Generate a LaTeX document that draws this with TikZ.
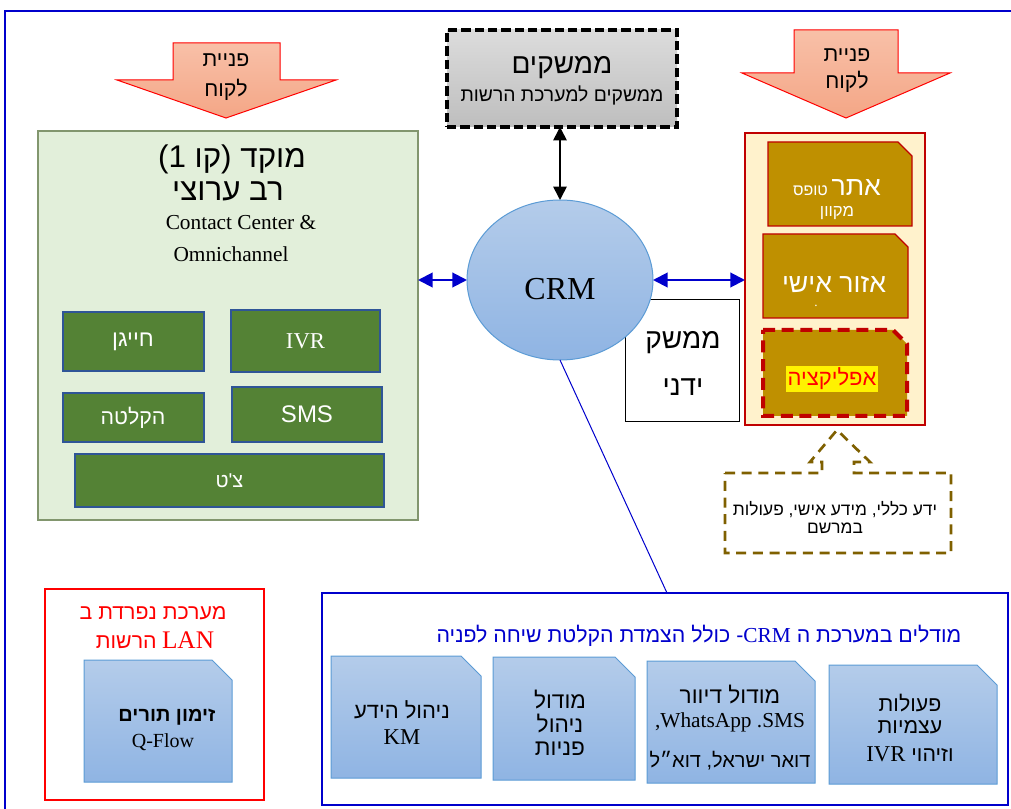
\documentclass[tikz,border=0pt]{standalone}
\usepackage{fontspec}
\setmainfont{Liberation Serif}
\newfontfamily\heb[Script=Hebrew]{Liberation Sans}
\newfontfamily\hsans{Liberation Sans}
\TeXXeTstate=1
\usetikzlibrary{arrows.meta,shapes.geometric}
\newcommand\hb[1]{{\heb\beginR #1\endR}}
\newcommand\fsz[1]{\fontsize{#1}{#1}\selectfont}
\newcommand\snipbox[6][]{\path[#1] (#2,#3) -- ({#4-#6},#3) -- (#4,{#3+#6}) -- (#4,#5) -- (#2,#5) -- cycle;}
\definecolor{frameblue}{RGB}{0,0,204}
\definecolor{panelgreen}{RGB}{226,239,218}
\definecolor{panelgreenb}{RGB}{130,150,110}
\definecolor{darkgreen}{RGB}{84,130,53}
\definecolor{gbord}{RGB}{47,85,151}
\definecolor{salmonT}{RGB}{248,192,168}
\definecolor{salmonB}{RGB}{244,166,134}
\definecolor{cream}{RGB}{255,242,204}
\definecolor{darkred}{RGB}{192,0,0}
\definecolor{gold}{RGB}{191,144,0}
\definecolor{brownc}{RGB}{127,96,0}
\definecolor{lbT}{RGB}{180,204,234}
\definecolor{lbB}{RGB}{143,180,227}
\definecolor{lbBorder}{RGB}{91,155,213}
\definecolor{grayT}{RGB}{220,220,220}
\definecolor{grayB}{RGB}{190,190,190}
\begin{document}
\begin{tikzpicture}[x=0.75pt,y=-0.75pt,
  every node/.style={inner sep=0pt,outer sep=0pt},
  frame/.style={draw=frameblue,line width=1.5pt},
  arrowshape/.style={draw=red,line width=0.75pt,top color=salmonT,bottom color=salmonB},
  ifacebox/.style={draw=black,line width=2.4pt,dash pattern=on 7pt off 3pt,top color=grayT,bottom color=grayB,minimum width=172.5pt,minimum height=72.75pt},
  greenpanel/.style={draw=panelgreenb,line width=1pt,fill=panelgreen},
  chan/.style={draw=gbord,line width=1.5pt,fill=darkgreen,text=white},
  crmstyle/.style={ellipse,draw=lbBorder,line width=0.75pt,top color=lbT,bottom color=lbB,minimum width=139.5pt,minimum height=120pt},
  goldbox/.style={fill=gold,draw=darkred,line width=1pt},
  appbox/.style={fill=gold,draw=darkred,line width=3pt,dash pattern=on 9pt off 5pt},
  modbox/.style={draw=lbBorder,line width=0.75pt,top color=lbT,bottom color=lbB},
  bidir/.style={{Triangle[width=11pt,length=11pt]}-{Triangle[width=11pt,length=11pt]},draw=frameblue,fill=frameblue,line width=1.5pt},
  blkbidir/.style={{Triangle[width=10pt,length=10pt]}-{Triangle[width=10pt,length=10pt]},draw=black,fill=black,line width=1.2pt},
  calloutsty/.style={draw=brownc,line width=2pt,dash pattern=on 7.5pt off 5pt,fill=white}
]
\useasboundingbox (0,0) rectangle (1011,809);
% outer frame
\draw[frame] (5,11) rectangle (1030,830);

% customer arrows
\path[arrowshape] (173,43) -- (280,43) -- (280,80) -- (336,80) -- (226,118) -- (117,80) -- (173,80) -- cycle;
\node[font=\fsz{16}] (la1) at (226,60) {\hb{פניית}};
\node[font=\fsz{16}] (la2) at (226,90) {\hb{לקוח}};
\path[arrowshape] (794,30) -- (898,30) -- (898,73) -- (950,73) -- (846,118) -- (742,73) -- (794,73) -- cycle;
\node[font=\fsz{16}] (ra1) at (847,55) {\hb{פניית}};
\node[font=\fsz{16}] (ra2) at (847,82) {\hb{לקוח}};

% interfaces box
\node[ifacebox] (iface) at (562,78.5) {};
\node[font=\fsz{21}] (if1) at (562,68) {\hb{ממשקים}};
\node[font=\fsz{14.5}] (if2) at (562,95) {\hb{ממשקים למערכת הרשות}};

% left contact center panel
\node[greenpanel,minimum width=285pt,minimum height=291.75pt] (cc) at (228,325.5) {};
\node[font=\fsz{23.5}] (cc1) at (232,159) {\hb{מוקד (קו \beginL 1\endL)}};
\node[font=\fsz{23.5}] (cc2) at (228,191) {\hb{רב ערוצי}};
\node[font=\fsz{16}] (cc3) at (241,223) {Contact Center \&};
\node[font=\fsz{16}] (cc4) at (231,254) {Omnichannel};
\node[chan,minimum width=105.75pt,minimum height=44.25pt] (c1) at (133,341.5) {};
\node[font=\fsz{17},text=white] (c1t) at (c1) {\hb{חייגן}};
\node[chan,minimum width=111.75pt,minimum height=46.5pt] (c2) at (305.5,341) {};
\node[font=\fsz{17},text=white] (c2t) at (c2) {IVR};
\node[chan,minimum width=105.75pt,minimum height=36.75pt] (c3) at (133,417.5) {};
\node[font=\fsz{16},text=white] (c3t) at (c3) {\hb{הקלטה}};
\node[chan,minimum width=112.5pt,minimum height=41.25pt] (c4) at (307,414.5) {};
\node[font=\hsans\fsz{18},text=white] (c4t) at (c4) {SMS};
\node[chan,minimum width=231.75pt,minimum height=39.75pt] (c5) at (229.5,480.5) {};
\node[font=\fsz{15},text=white] (c5t) at (c5) {\hb{צ'ט}};

% right self-service panel
\node[draw=darkred,line width=2pt,fill=cream,minimum width=135pt,minimum height=219pt] (rp) at (835,279) {};
\snipbox[goldbox]{768}{142}{912}{226}{14}
\node (web) at (837,188) {\color{white}\hb{{\fsz{20}אתר} {\fsz{12}טופס}}};
\node[font=\fsz{12.5},text=white] (web2) at (837,213) {\hb{מקוון}};
\snipbox[goldbox]{763}{234}{908}{318}{13}
\node[font=\fsz{20},text=white] (pers) at (834,284) {\hb{אזור אישי}};
\node[font=\fsz{10},text=white] (persdot) at (816,306) {.};
\snipbox[appbox]{763}{330}{907}{416}{14}
\node[font=\fsz{16.5},text=red,fill=yellow,inner sep=1.5pt] (app) at (832,379) {\hb{אפליקציה}};

% manual interface box
\node[draw=black,line width=0.75pt,fill=white,minimum width=85.5pt,minimum height=91.5pt] (man) at (682,361) {};
\node[font=\fsz{21}] (man1) at (683,343) {\hb{ממשק}};
\node[font=\fsz{21}] (man2) at (683,387) {\hb{ידני}};

% CRM
\node[crmstyle] (crm) at (560,280) {};
\node[font=\fsz{24}] (crmt) at (560,289) {CRM};

% callout
\path[calloutsty] (725,473) -- (822,473) -- (822,462) -- (810,462) -- (837,430) -- (870,462) -- (854,462) -- (854,473) -- (951,473) -- (951,553) -- (725,553) -- cycle;
\node[font=\fsz{13}] (co1) at (835,510) {\hb{ידע כללי, מידע אישי, פעולות}};
\node[font=\fsz{13}] (co2) at (835,528) {\hb{במרשם}};

% separate LAN system
\node[draw=red,line width=2pt,minimum width=164.25pt,minimum height=158.25pt] (lan) at (154.5,694.5) {};
\node[font=\fsz{16},text=red] (lan1) at (153,613) {\hb{מערכת נפרדת ב}};
\node[text=red] (lan2) at (155,640) {\hb{\beginL{\fsz{19}\rmfamily LAN}\endL\hspace{4pt}{\fsz{16}הרשות}}};
\snipbox[modbox]{84}{660}{232}{782}{20}
\node[font=\bfseries\fsz{15}] (qf1) at (167,717) {\hb{זימון תורים}};
\node[font=\fsz{15}] (qf2) at (163,742) {Q-Flow};

% modules box
\node[draw=frameblue,line width=2pt,minimum width=514.5pt,minimum height=159pt] (mod) at (665,699) {};
\coordinate (modin) at (667,593);
\node[font=\fsz{16},text=frameblue] (modt) at (699,636) {\hb{מודלים במערכת ה \beginL{\rmfamily CRM}\endL- כולל הצמדת הקלטת שיחה לפניה}};
\snipbox[modbox]{331}{656}{481}{778}{20}
\node[font=\fsz{16.5}] (m1a) at (402,710) {\hb{ניהול הידע}};
\node[font=\fsz{17}] (m1b) at (402,737) {KM};
\snipbox[modbox]{493}{657}{635}{780}{20}
\node[font=\fsz{17}] (m2a) at (560,700) {\hb{מודול}};
\node[font=\fsz{17}] (m2b) at (560,724) {\hb{ניהול}};
\node[font=\fsz{17}] (m2c) at (560,749) {\hb{פניות}};
\snipbox[modbox]{647}{661}{815}{783}{20}
\node[font=\fsz{17}] (m3a) at (730,695) {\hb{מודול דיוור}};
\node[font=\fsz{16}] (m3b) at (730,722) {,WhatsApp .SMS};
\node[font=\fsz{15}] (m3c) at (730,761) {\hb{דואר ישראל, דוא״ל}};
\snipbox[modbox]{829}{665}{997}{784}{20}
\node[font=\fsz{16}] (m4a) at (910,703) {\hb{פעולות}};
\node[font=\fsz{16}] (m4b) at (910,727) {\hb{עצמיות}};
\node[font=\fsz{16}] (m4c) at (910,754) {\hb{וזיהוי \beginL{\fsz{17}\rmfamily IVR}\endL}};

% connectors
\draw[blkbidir] (crm.north |- iface.south) -- (crm.north);
\draw[bidir] (cc.east |- crm.west) -- (crm.west);
\draw[bidir] (crm.east) -- (rp.west |- crm.east);
\draw[draw=frameblue,line width=0.75pt] (crm.south) -- (modin);
\end{tikzpicture}
\end{document}
